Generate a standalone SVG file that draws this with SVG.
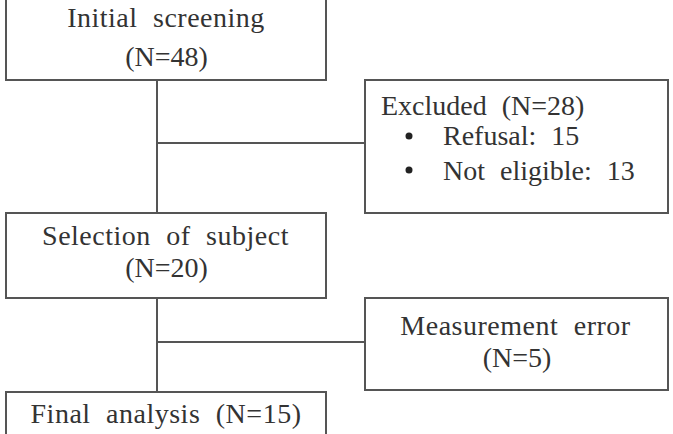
<svg xmlns="http://www.w3.org/2000/svg" width="673" height="434" viewBox="0 0 673 434">
<style>
.box{fill:#fff;stroke:#555;stroke-width:2}
.ln{stroke:#555;stroke-width:2;fill:none}
</style>
<rect width="673" height="434" fill="#fff"/>
<g id="connectors">
<path class="ln" d="M157 80V213M157 143H365M157 298V392M157 342H365"/>
</g>
<g id="initial">
<rect class="box" x="6" y="-10" width="320" height="90"/>
<text font-family="Liberation Serif" font-size="28" fill="#333" word-spacing="8" letter-spacing="0.5" text-anchor="middle" x="166" y="27">Initial screening</text>
<text font-family="Liberation Serif" font-size="28" fill="#333" text-anchor="middle" x="166.5" y="66">(N=48)</text>
</g>
<g id="excluded">
<rect class="box" x="365" y="80" width="303" height="133"/>
<text font-family="Liberation Serif" font-size="28" fill="#333" word-spacing="8" x="381" y="115">Excluded (N=28)</text>
<circle cx="409" cy="136" r="3.5" fill="#222"/>
<text font-family="Liberation Serif" font-size="28" fill="#333" word-spacing="8" x="443" y="145">Refusal: 15</text>
<circle cx="409" cy="170" r="3.5" fill="#222"/>
<text font-family="Liberation Serif" font-size="28" fill="#333" word-spacing="8" x="443" y="180">Not eligible: 13</text>
</g>
<g id="selection">
<rect class="box" x="6" y="213" width="320" height="85"/>
<text font-family="Liberation Serif" font-size="28" fill="#333" word-spacing="8" letter-spacing="0.5" text-anchor="middle" x="165.5" y="245">Selection of subject</text>
<text font-family="Liberation Serif" font-size="28" fill="#333" text-anchor="middle" x="166.5" y="277">(N=20)</text>
</g>
<g id="measurement">
<rect class="box" x="365" y="298" width="303" height="92"/>
<text font-family="Liberation Serif" font-size="28" fill="#333" word-spacing="8" letter-spacing="0.5" text-anchor="middle" x="515.5" y="335">Measurement error</text>
<text font-family="Liberation Serif" font-size="28" fill="#333" text-anchor="middle" x="517" y="367">(N=5)</text>
</g>
<g id="final">
<rect class="box" x="6" y="392" width="320" height="60"/>
<text font-family="Liberation Serif" font-size="28" fill="#333" word-spacing="8" letter-spacing="0.5" text-anchor="middle" x="166" y="423">Final analysis (N=15)</text>
</g>
</svg>
